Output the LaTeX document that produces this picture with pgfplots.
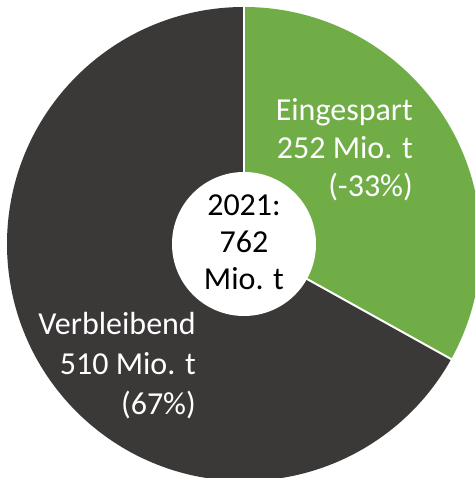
\documentclass[border=0pt]{standalone}
\usepackage{pgfplots}
\pgfplotsset{compat=1.18}
\usepackage{fontspec}
\setmainfont{Carlito}
\definecolor{cgreen}{HTML}{70AD47}
\definecolor{cdark}{HTML}{3B3838}
\begin{document}
\begin{tikzpicture}
\pgfmathsetmacro{\va}{252}% Eingespart
\pgfmathsetmacro{\vb}{510}% Verbleibend
\pgfmathsetmacro{\frA}{\va/(\va+\vb)}
\pgfmathsetmacro{\angA}{90-360*\frA}
\pgfmathsetmacro{\angB}{\angA+360}
\begin{axis}[width=475pt,height=478pt,scale only axis,hide axis,
  xmin=-244,xmax=231,ymin=-234,ymax=244,clip=true]
\path (rel axis cs:0,0) rectangle (rel axis cs:1,1);
\fill[cgreen] (axis cs:0,0) -- (axis cs:0,237) arc[start angle=90,end angle=\angA,radius=237pt] -- cycle;
\fill[cdark] (axis cs:0,0) -- (axis cs:0,237) arc[start angle=90,end angle=\angB,radius=237pt] -- cycle;
\draw[white,line width=2pt] (axis cs:0,0) -- (axis cs:0,240);
\draw[white,line width=2pt] (axis cs:0,0) -- ++(\angA:240pt);
\fill[white] (axis cs:0,0) circle[radius=72pt];
\node[anchor=east,align=right,text=white,font=\fontsize{32}{38}\selectfont,inner sep=0pt] at (axis cs:169,94) {Eingespart\\252 Mio. t\\(-33\%)};
\node[anchor=east,align=right,text=white,font=\fontsize{32}{40}\selectfont,inner sep=0pt] at (axis cs:-48,-122) {Verbleibend\\510 Mio. t\\(67\%)};
\node[align=center,text=black,font=\fontsize{32}{37}\selectfont,inner sep=0pt] at (axis cs:0,2) {2021:\\762\\Mio. t};
\end{axis}
\pgfresetboundingbox
\path (current axis.south west) rectangle (current axis.north east);
\end{tikzpicture}
\end{document}
